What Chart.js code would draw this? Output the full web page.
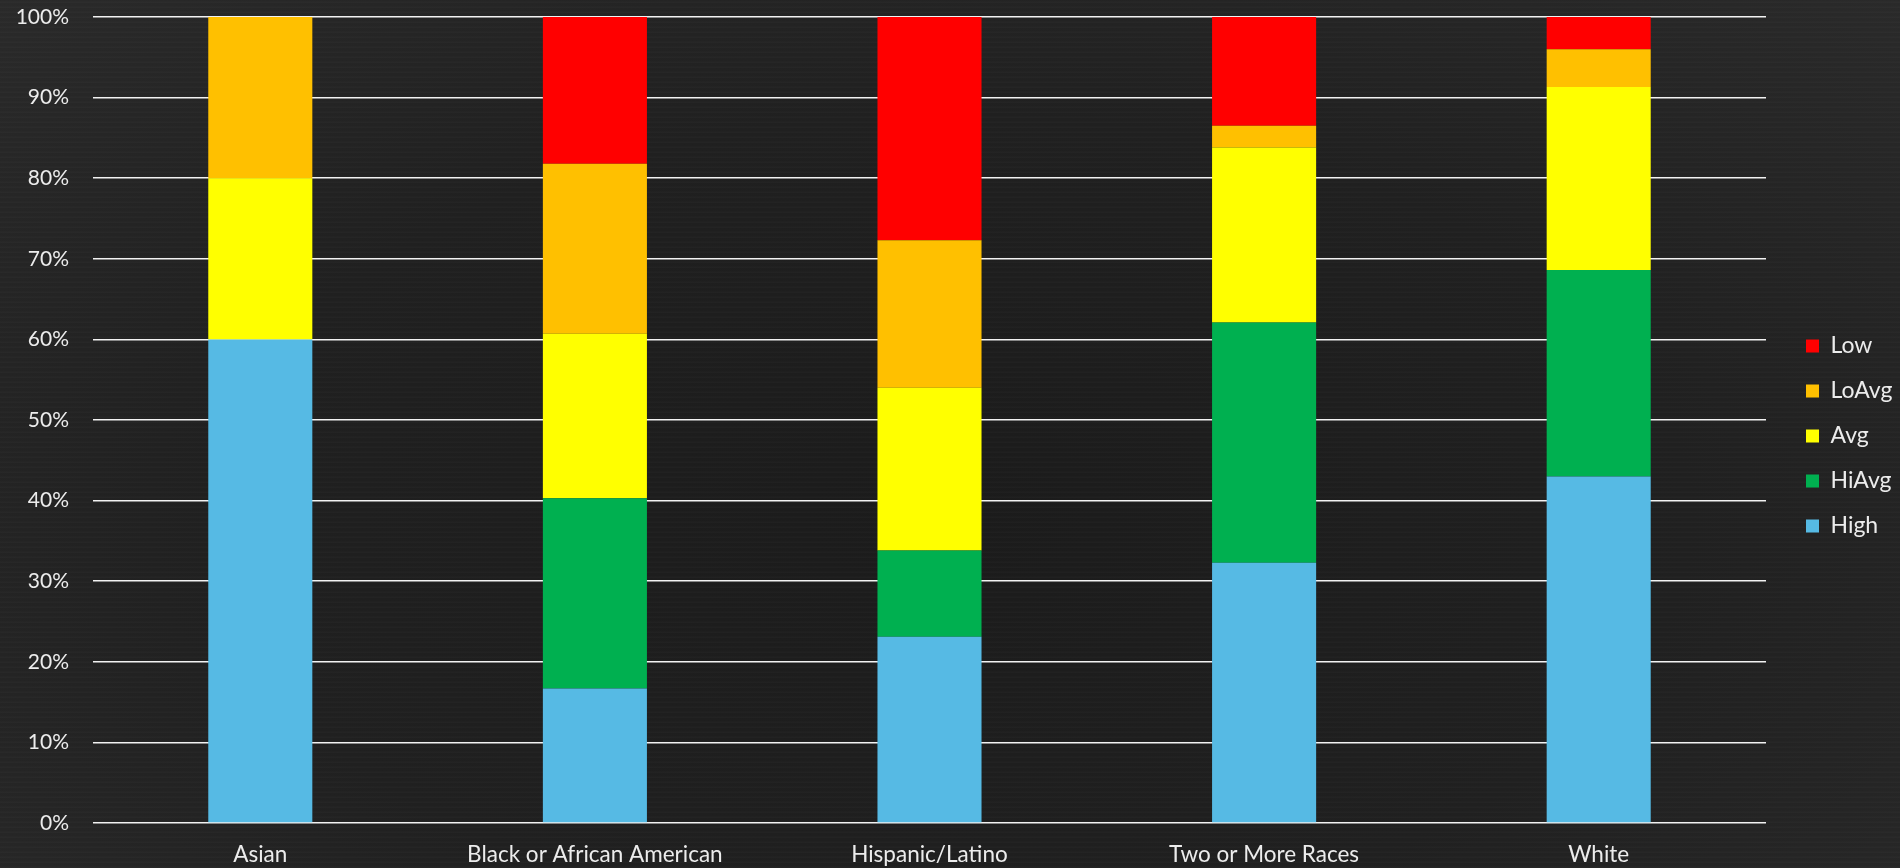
<!DOCTYPE html>
<html>
<head>
<meta charset="utf-8">
<script src="https://cdn.jsdelivr.net/npm/chart.js@4.4.1/dist/chart.umd.min.js"></script>
<style>
  html, body { margin: 0; padding: 0; width: 1900px; height: 868px; overflow: hidden; }
  body {
    background:
      repeating-linear-gradient(0deg, rgba(255,255,255,0.018) 0px, rgba(255,255,255,0.018) 1px, rgba(0,0,0,0) 2px, rgba(0,0,0,0) 5px),
      radial-gradient(ellipse at 50% 60%, #1b1b1b 0%, #202020 55%, #2a2a2a 100%);
  }
  #wrap { position: absolute; left: 0; top: 0; width: 1900px; height: 868px; }
</style>
</head>
<body>
<div id="wrap"><canvas id="c" width="1900" height="868"></canvas></div>
<script>
const categories = ["Asian", "Black or African American", "Hispanic/Latino", "Two or More Races", "White"];
const highValues  = [60.0, 16.7, 23.1, 32.3, 43.0];
const hiAvgValues = [0.0, 23.6, 10.7, 29.8, 25.6];
const avgValues   = [20.0, 20.4, 20.2, 21.7, 22.7];
const loAvgValues = [20.0, 21.1, 18.3, 2.7, 4.7];
const lowValues   = [0.0, 18.2, 27.7, 13.5, 4.0];
const seriesNames = ["High", "HiAvg", "Avg", "LoAvg", "Low"];
const seriesColors = ["#56BAE4", "#00B050", "#FFFF00", "#FFC000", "#FF0000"];
const yTicks = [0, 10, 20, 30, 40, 50, 60, 70, 80, 90, 100];

const seriesValues = [highValues, hiAvgValues, avgValues, loAvgValues, lowValues];
const textColor = "#ececec";
const fontFamily = "Lato, 'Open Sans', sans-serif";

const legendFix = {
  id: 'legendFix',
  beforeLayout(chart) {
    const lg = chart.legend;
    if (lg && !lg._patched) {
      const orig = lg.fit.bind(lg);
      lg.fit = function () { orig(); this.width = 134; };
      lg._patched = true;
    }
  },
  afterLayout(chart) {
    const lg = chart.legend;
    if (!lg) return;
    const dx = 18, dy = 2;
    lg.left += dx; lg.right += dx;
    lg.top += dy; lg.bottom += dy;
  }
};

new Chart(document.getElementById('c'), {
  type: 'bar',
  data: {
    labels: categories,
    datasets: seriesNames.map((n, i) => ({
      label: n,
      data: seriesValues[i],
      backgroundColor: seriesColors[i],
      borderWidth: 0,
      barPercentage: 0.311,
      categoryPercentage: 1.0
    }))
  },
  options: {
    responsive: false,
    animation: false,
    layout: { padding: { top: 0, left: 0, right: 0, bottom: 0 } },
    plugins: {
      legend: {
        position: 'right',
        reverse: true,
        labels: {
          color: textColor,
          font: { family: fontFamily, size: 23 },
          boxWidth: 13,
          boxHeight: 13,
          padding: 22
        }
      },
      tooltip: { enabled: false },
      title: { display: false }
    },
    scales: {
      x: {
        stacked: true,
        grid: { display: false },
        border: { display: false },
        ticks: { color: textColor, font: { family: fontFamily, size: 22.5 }, padding: 10, maxRotation: 0 },
        afterFit(axis) { axis.height = 45; }
      },
      y: {
        stacked: true,
        min: 0,
        max: 100,
        afterBuildTicks(axis) { axis.ticks = yTicks.map(v => ({ value: v })); },
        ticks: {
          color: textColor,
          font: { family: fontFamily, size: 21 },
          padding: 24,
          callback: (v) => v + '%'
        },
        grid: { color: '#f2f2f2', lineWidth: 1.5, drawTicks: false },
        border: { display: false },
        afterFit(axis) { axis.width = 93; axis.paddingTop = 17; }
      }
    }
  },
  plugins: [legendFix]
});
</script>
</body>
</html>
